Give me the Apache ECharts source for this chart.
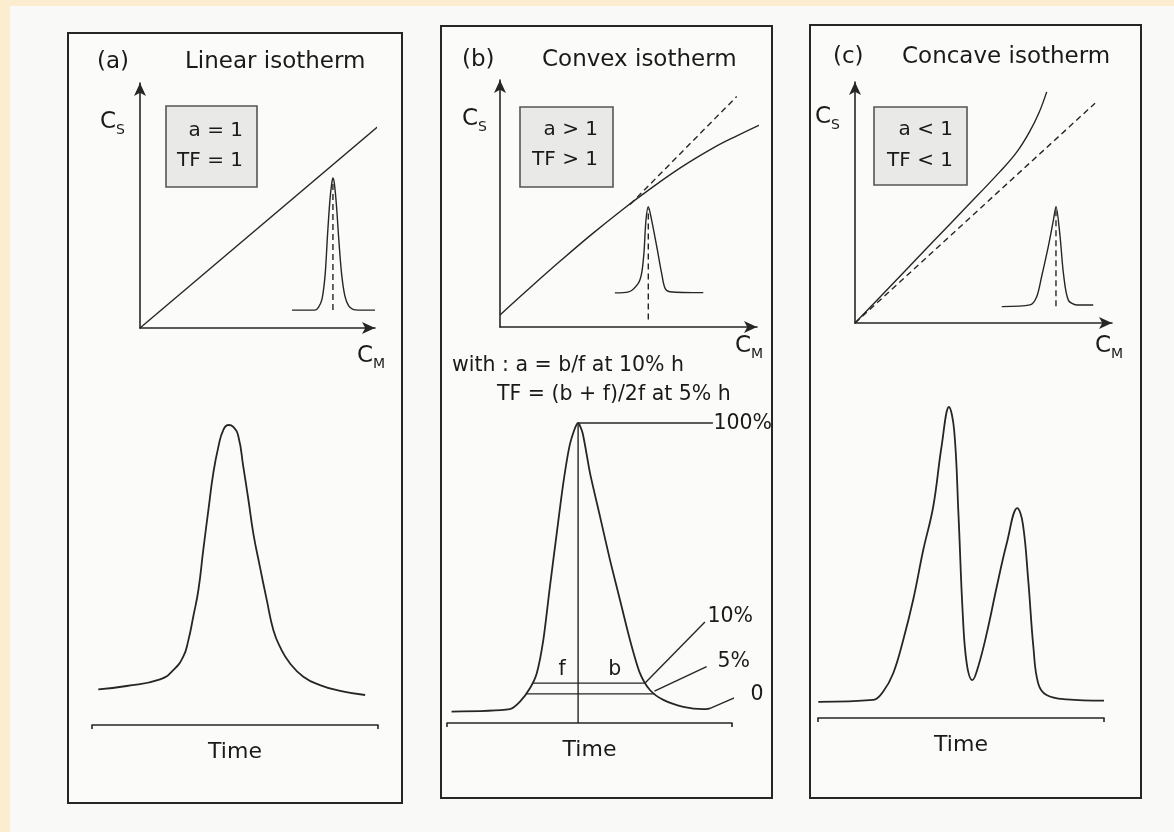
<!DOCTYPE html>
<html>
<head>
<meta charset="utf-8">
<style>
  html, body { margin: 0; padding: 0; background: #fcecd0; }
  #chart { width: 1174px; height: 832px; }
</style>
<script src="https://cdn.jsdelivr.net/npm/echarts@6/dist/echarts.min.js"></script>
</head>
<body>
<div id="chart"></div>
<script>
// ---------------- data ----------------
// Panel titles
const panelLetters = ['(a)', '(b)', '(c)'];
const panelNames = ['Linear isotherm', 'Convex isotherm', 'Concave isotherm'];
const boxLines = [['a = 1', 'TF = 1'], ['a > 1', 'TF > 1'], ['a < 1', 'TF < 1']];
const formulaLines = ['with : a = b/f at 10% h', 'TF = (b + f)/2f at 5% h'];

// (a) linear isotherm  (x: C_M, y: C_S, 0..100)
const isoA_line = [[0, 0], [101, 82]];
const isoA_peak = [[64.7, 7.3], [74.5, 7.3], [76, 8.5], [77.5, 12], [78.8, 22], [79.8, 38], [80.8, 52], [81.6, 59],
  [82.1, 61.2], [82.7, 59], [83.6, 50], [84.6, 36], [85.8, 22], [87.2, 13], [88.8, 9], [90.6, 7.6], [93, 7.3], [100, 7.3]];
const isoA_peakMark = [[82.1, 7.3], [82.1, 60]];
// (a) chromatogram (x: time 0..100, y: signal 0..100)
const chromA = [[2.2, 11.9], [12.1, 13.0], [23.8, 15.2], [28.4, 18.3], [31.9, 22.8], [33.7, 28.3], [35.4, 36.1],
  [37.2, 45], [38.9, 58.3], [40.7, 71.7], [42.4, 83.9], [44.2, 92.8], [45.9, 98.3], [47.7, 100], [49.4, 99.4],
  [51.2, 96.1], [52.9, 86.1], [54.7, 75], [56.4, 63.9], [58.7, 52.8], [61.1, 41.7], [63.4, 31.7], [65.7, 26.1],
  [69.2, 20.6], [73.9, 16.1], [79.7, 13.3], [86.7, 11.4], [95.5, 10]];

// (b) convex isotherm
const isoB_solid = [[0, 4.9], [12, 16.2], [24, 27.2], [36, 37.8], [48, 47.8], [57, 54.8], [70, 64.3], [83, 72.5],
  [92, 77.3], [102.4, 82.5]];
const isoB_dashed = [[50.6, 49.6], [92.1, 93.3]];
const isoB_peak = [[44.7, 13.8], [50, 14.2], [53.8, 17.7], [55.1, 21.7], [56, 29.8], [56.8, 43.3], [57.7, 48.7],
  [59, 43.3], [61, 32.5], [62.9, 21.7], [64.2, 15.7], [66.1, 14.3], [79.1, 13.9]];
const isoB_peakMark = [[57.7, 3], [57.7, 48]];
// (b) chromatogram
const chromB = [[1.6, 3.8], [22.1, 4.6], [25.6, 7.1], [29.1, 11.6], [31.5, 16.6], [33.8, 27.7], [36.1, 45.4],
  [38.5, 63.2], [40.8, 79.9], [43.2, 93.2], [46, 100], [47.6, 96.6], [50.2, 83.2], [53.7, 68.8], [57.2, 54.3],
  [60.7, 41], [64.2, 27.7], [67.7, 16.6], [71.2, 11], [75.9, 7.7], [82.9, 5.4], [89.9, 4.6], [92.3, 4.9]];
const chromB_apex = [[46, 0], [46, 100]];
const chromB_top = [[46, 100], [93.3, 100]];
const chromB_h10 = [[29.8, 13.3], [69.5, 13.3]];
const chromB_h5 = [[27.8, 9.7], [72.8, 9.7]];
const chromB_lead10 = [[69.5, 13.3], [90.5, 33.7]];
const chromB_lead5 = [[72.8, 10.6], [91.1, 18.8]];
const chromB_lead0 = [[92.3, 4.9], [104.6, 9.9]];
const chromB_labels = [
  { name: '100%', value: [93.3, 99.7] },
  { name: '10%', value: [91.2, 35.3] },
  { name: '5%', value: [94.7, 20.3] },
  { name: '0', value: [106.3, 9.3] }
];
const chromB_fb = [
  { name: 'f', value: [40.4, 17.7] },
  { name: 'b', value: [58.9, 17.7] }
];

// (c) concave isotherm
const isoC_solid = [[0, 0], [17.5, 19.4], [30.5, 33.9], [43.5, 48.3], [56.4, 62.8], [63, 71], [68, 79.5], [71.5, 87], [74.6, 95.9]];
const isoC_dashed = [[0, 0], [93.4, 91.2]];
const isoC_peak = [[57.1, 6.8], [68.1, 7.5], [70.7, 10.9], [72.6, 19.2], [75.2, 31.7], [77.2, 42.7], [78.2, 48.3],
  [79.8, 35.8], [81.1, 20.6], [83, 9.5], [86.3, 7.5], [92.7, 7.5]];
const isoC_peakMark = [[78.2, 7], [78.2, 48]];
// (c) chromatogram
const chromC = [[0.1, 5.2], [19.3, 5.8], [22.8, 8.5], [26.3, 14.4], [29.8, 25.1], [33.3, 38.1], [36.8, 54],
  [40.3, 68], [43.2, 87.3], [45.8, 100], [47.6, 92.6], [49.1, 65.8], [50.6, 33.7], [52, 17.6], [54, 12.2],
  [56, 16.5], [59, 27.2], [62.5, 42.2], [66, 56.2], [69.7, 67.5], [71.6, 62.6], [73.5, 44.4], [75.3, 22.9],
  [77, 11.1], [79.9, 7.4], [86.9, 6], [100, 5.6]];

// ---------------- layout & style ----------------
const INK = '#262626';
const TXT = '#1a1a1a';
const FONT = 'DejaVu Sans';

const grids = [
  { left: 140, top: 83, width: 235, height: 245 },   // 0 iso a
  { left: 92, top: 425, width: 286, height: 300 },   // 1 chrom a
  { left: 500, top: 80, width: 257, height: 247 },   // 2 iso b
  { left: 447, top: 423, width: 285, height: 300 },  // 3 chrom b
  { left: 855, top: 82, width: 257, height: 241 },   // 4 iso c
  { left: 818, top: 407, width: 286, height: 311 }   // 5 chrom c
];

function isoAxis(gi) {
  return {
    gridIndex: gi, type: 'value', min: 0, max: 100,
    axisLine: { show: true, onZero: false, symbol: ['none', 'arrow'], symbolSize: [9, 13],
      lineStyle: { color: INK, width: 1.6 } },
    axisTick: { show: false }, axisLabel: { show: false }, splitLine: { show: false }
  };
}
function chromX(gi) {
  return {
    gridIndex: gi, type: 'value', min: 0, max: 100, interval: 100,
    axisLine: { show: true, onZero: false, lineStyle: { color: INK, width: 1.6 } },
    axisTick: { show: true, length: 4, lineStyle: { color: INK, width: 1.6 } },
    axisLabel: { show: false }, splitLine: { show: false },
    name: 'Time', nameLocation: 'middle', nameGap: 16,
    nameTextStyle: { fontSize: 22, color: TXT, fontFamily: FONT }
  };
}
function hiddenY(gi) {
  return { gridIndex: gi, type: 'value', min: 0, max: 100, show: false };
}

const xAxes = [isoAxis(0), chromX(1), isoAxis(2), chromX(3), isoAxis(4), chromX(5)];
const yAxes = [isoAxis(0), hiddenY(1), isoAxis(2), hiddenY(3), isoAxis(4), hiddenY(5)];

function line(data, gi, extra) {
  const s = {
    type: 'line', xAxisIndex: gi, yAxisIndex: gi, data: data, symbol: 'none', silent: true, clip: false,
    animation: false, lineStyle: { color: INK, width: 1.8 }
  };
  return Object.assign(s, extra || {});
}
const dashed = { lineStyle: { color: INK, width: 1.4, type: [6, 4] } };
const thin = { lineStyle: { color: INK, width: 1.4 } };

function labels(data, gi, pos) {
  return {
    type: 'scatter', xAxisIndex: gi, yAxisIndex: gi, data: data, symbolSize: 1, silent: true, animation: false,
    itemStyle: { color: TXT, opacity: 0 }, clip: false,
    label: { show: true, formatter: '{b}', position: pos, distance: 0, fontSize: 20.5, color: TXT,
      fontFamily: FONT, opacity: 1, textBorderWidth: 0 }
  };
}

const series = [
  line(isoA_line, 0, thin),
  line(isoA_peak, 0, Object.assign({ smooth: 0.3 }, thin)),
  line(isoA_peakMark, 0, dashed),
  line(chromA, 1, { smooth: 0.5 }),

  line(isoB_solid, 2, Object.assign({ smooth: 0.4 }, thin)),
  line(isoB_dashed, 2, dashed),
  line(isoB_peak, 2, Object.assign({ smooth: 0.3 }, thin)),
  line(isoB_peakMark, 2, dashed),
  line(chromB, 3, { smooth: 0.25 }),
  line(chromB_apex, 3, thin),
  line(chromB_top, 3, thin),
  line(chromB_h10, 3, thin),
  line(chromB_h5, 3, thin),
  line(chromB_lead10, 3, thin),
  line(chromB_lead5, 3, thin),
  line(chromB_lead0, 3, thin),
  labels(chromB_labels, 3, 'right'),
  labels(chromB_fb, 3, 'inside'),

  line(isoC_solid, 4, Object.assign({ smooth: 0.4 }, thin)),
  line(isoC_dashed, 4, dashed),
  line(isoC_peak, 4, Object.assign({ smooth: 0.3 }, thin)),
  line(isoC_peakMark, 4, dashed),
  line(chromC, 5, { smooth: 0.4 })
];

// ---------------- decorations (frames, boxes, texts) ----------------
const frames = [
  { x: 68, y: 33, width: 334, height: 770 },
  { x: 441, y: 26, width: 331, height: 772 },
  { x: 810, y: 25, width: 331, height: 773 }
];
const titlePos = [
  { lx: 97, nx: 185, y: 62 },
  { lx: 462, nx: 542, y: 60 },
  { lx: 833, nx: 902, y: 57 }
];
const boxes = [
  { x: 166, y: 106, width: 91, height: 81, tx: 243, y1: 131, y2: 161 },
  { x: 520, y: 107, width: 93, height: 80, tx: 598, y1: 130, y2: 160 },
  { x: 874, y: 107, width: 93, height: 78, tx: 953, y1: 130, y2: 161 }
];
const csPos = [{ x: 100, y: 122 }, { x: 462, y: 119 }, { x: 815, y: 117 }];
const cmPos = [{ x: 357, y: 356 }, { x: 735, y: 346 }, { x: 1095, y: 346 }];

function txt(text, x, y, size, align) {
  return {
    type: 'text', silent: true, z: 10,
    style: { text: text, x: x, y: y, fill: TXT, fontSize: size, fontFamily: FONT,
      align: align || 'left', textAlign: align || 'left', verticalAlign: 'middle', textVerticalAlign: 'middle' }
  };
}
function subTxt(main, sub, x, y) {
  return {
    type: 'text', silent: true, z: 10,
    style: {
      text: '{m|' + main + '}{s|' + sub + '}', x: x, y: y, fill: TXT,
      align: 'left', verticalAlign: 'middle',
      rich: {
        m: { fontSize: 23, fontFamily: FONT, color: TXT, lineHeight: 30, verticalAlign: 'middle' },
        s: { fontSize: 14, fontFamily: FONT, color: TXT, lineHeight: 14, verticalAlign: 'bottom' }
      }
    }
  };
}

const graphics = [
  { type: 'rect', silent: true, z: -20, shape: { x: 10, y: 6, width: 1164, height: 826 }, style: { fill: '#f9f9f8' } }
];
frames.forEach(f => graphics.push({ type: 'rect', silent: true, z: -10, shape: f,
  style: { fill: '#fbfbfa', stroke: '#262626', lineWidth: 2 } }));
boxes.forEach((b, i) => {
  graphics.push({ type: 'rect', silent: true, z: 5, shape: { x: b.x, y: b.y, width: b.width, height: b.height },
    style: { fill: '#e9e9e7', stroke: '#555', lineWidth: 1.6 } });
  graphics.push(txt(boxLines[i][0], b.tx, b.y1, 20, 'right'));
  graphics.push(txt(boxLines[i][1], b.tx, b.y2, 20, 'right'));
});
titlePos.forEach((t, i) => {
  graphics.push(txt(panelLetters[i], t.lx, t.y, 23));
  graphics.push(txt(panelNames[i], t.nx, t.y, 23));
});
csPos.forEach(p => graphics.push(subTxt('C', 'S', p.x, p.y)));
cmPos.forEach(p => graphics.push(subTxt('C', 'M', p.x, p.y)));
graphics.push(txt(formulaLines[0], 452, 366, 20.5));
graphics.push(txt(formulaLines[1], 497, 395, 20.5));

const chart = echarts.init(document.getElementById('chart'), null, { renderer: 'canvas' });
chart.setOption({
  backgroundColor: '#fcecd0',
  animation: false,
  grid: grids,
  xAxis: xAxes,
  yAxis: yAxes,
  series: series,
  graphic: { elements: graphics }
});
</script>
</body>
</html>
